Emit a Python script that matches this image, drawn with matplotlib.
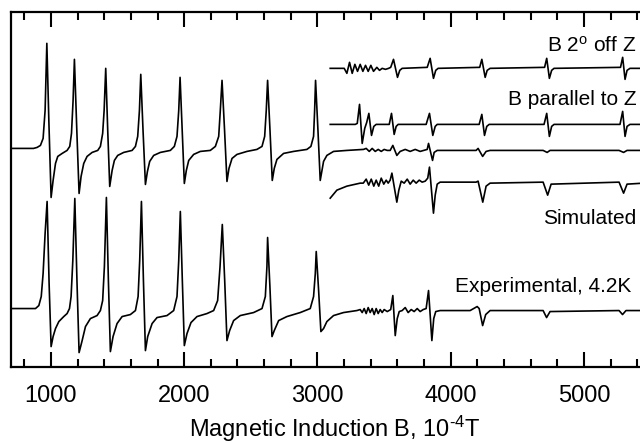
import matplotlib
matplotlib.use("Agg")
import matplotlib.pyplot as plt
from matplotlib.ticker import MultipleLocator

plt.rcParams['font.family'] = ['Liberation Sans', 'DejaVu Sans']
plt.rcParams['mathtext.fontset'] = 'custom'
plt.rcParams['mathtext.rm'] = 'Liberation Sans'
plt.rcParams['mathtext.it'] = 'Liberation Sans:italic'

# Experimental spectrum, 4.2K (field in 1e-4 T, arbitrary signal units)
b_exp = [704, 884, 909, 927, 941, 956, 971, 986, 1001, 1016, 1034, 1059, 1096, 1121, 1139,
         1151, 1164, 1179, 1195, 1211, 1234, 1259, 1296, 1346, 1371, 1388, 1401, 1416, 1431,
         1446, 1466, 1496, 1534, 1596, 1634, 1654, 1666, 1679, 1694, 1709, 1726, 1759, 1796,
         1871, 1921, 1946, 1959, 1971, 1986, 2001, 2021, 2051, 2096, 2171, 2221, 2251, 2269,
         2286, 2304, 2321, 2341, 2371, 2421, 2521, 2584, 2609, 2621, 2626, 2643, 2659, 2676,
         2709, 2771, 2871, 2946, 2971, 2984, 2991, 3009, 3026, 3046, 3071, 3121, 3196, 3296,
         3321, 3336, 3351, 3366, 3381, 3396, 3411, 3426, 3441, 3456, 3471, 3486, 3501, 3524,
         3550, 3566, 3584, 3599, 3614, 3636, 3659, 3681, 3704, 3726, 3749, 3771, 3794, 3816,
         3834, 3859, 3873, 3888, 3921, 4146, 4199, 4214, 4240, 4263, 4296, 4694, 4720, 4746,
         5264, 5290, 5316, 5571]
s_exp = [0, 0, 3, 12, 35, 75, 107, 25, -38, -28, -20, -13, -8, -5, 0,
         12, 48, 110, 28, -44, -32, -18, -10, -7, -2, 8, 42, 111, 28,
         -43, -28, -15, -8, -6, -2, 12, 48, 107, 28, -42, -28, -15, -9,
         -7, -2, 12, 48, 97, 28, -37, -25, -14, -8, -5, -2, 8, 42,
         84, 28, -32, -22, -12, -7, -4, 0, 12, 42, 71, 23, -28, -22,
         -12, -8, -4, 0, 12, 35, 57, 18, -23, -20, -13, -7, -4, -2,
         -1, -4, 0, -5, 1, -4, 0, -6, 0, -5, -1, -4, -1, -3,
         -1, 13, -27, -10, -3, -2, 1, -4, -1, -3, 0, -3, -1, 0,
         18, -32, -10, -3, -2, -2, 2, 0, -17, -6, -2, -2, -9, -3,
         -2, -6, -2, -2]

# Simulated powder spectrum
b_pow = [704, 869, 896, 921, 941, 956, 969, 984, 1001, 1016, 1034, 1051, 1084, 1121, 1141,
         1154, 1166, 1176, 1194, 1211, 1226, 1246, 1271, 1309, 1351, 1371, 1388, 1399, 1411,
         1426, 1441, 1459, 1476, 1501, 1546, 1609, 1634, 1651, 1664, 1674, 1691, 1709, 1724,
         1741, 1771, 1821, 1896, 1926, 1946, 1959, 1969, 1985, 2001, 2016, 2034, 2071, 2121,
         2196, 2234, 2259, 2271, 2284, 2303, 2321, 2336, 2359, 2396, 2471, 2546, 2584, 2604,
         2616, 2626, 2644, 2661, 2676, 2696, 2746, 2821, 2921, 2951, 2971, 2979, 2986, 3004,
         3021, 3046, 3071, 3121, 3221, 3346, 3366, 3389, 3411, 3434, 3456, 3479, 3501, 3524,
         3546, 3566, 3596, 3621, 3659, 3696, 3734, 3771, 3824, 3834, 3864, 3876, 3899, 4191,
         4206, 4240, 4266, 4296, 4694, 4724, 4746, 5264, 5298, 5324, 5571]
s_pow = [0, 0, 1, 3, 10, 38, 105, 28, -49, -32, -15, -8, -5, -2, 2,
         15, 48, 89, 18, -45, -28, -15, -8, -4, -2, 2, 15, 38, 80,
         18, -38, -22, -12, -7, -4, -2, 2, 12, 38, 74, 18, -36, -23,
         -13, -7, -4, -2, 2, 12, 38, 71, 18, -35, -22, -12, -6, -3,
         -2, 2, 12, 38, 68, 18, -33, -20, -10, -6, -3, -1, 2, 12,
         38, 68, 18, -32, -20, -11, -5, -3, -1, 2, 12, 38, 68, 18,
         -32, -13, -7, -3, -2, -1, 0, -3, 0, -3, -1, -3, -1, -2,
         -2, 3, -7, -3, -1, -3, -1, -3, -1, 5, -12, -4, -2, -2,
         0, -8, -3, -2, -2, -4, -2, -2, -4, -2, -2]

# Simulated, second curve (starts at 3100)
b_sim = [3096, 3146, 3221, 3321, 3344, 3366, 3385, 3404, 3423, 3441, 3460, 3479, 3498, 3516,
         3531, 3546, 3559, 3596, 3611, 3629, 3651, 3674, 3696, 3719, 3741, 3764, 3786, 3809,
         3828, 3841, 3871, 3884, 3899, 3921, 4191, 4206, 4241, 4266, 4296, 4694, 4728, 4754,
         5264, 5298, 5324, 5571]
s_sim = [-16, -8, -4, -1, -1, 3, -3, 3, -4, 2, -4, 4, -2, 2,
         -1, 2, 9, -20, -8, 1, -1, 3, -2, 2, -1, 2, 0, 1,
         4, 15, -31, -13, -2, 0, 0, 1, -20, -4, -1, 0, -13, -2,
         0, -11, -2, 0]

# B parallel to Z
b_par = [3096, 3284, 3299, 3316, 3336, 3355, 3370, 3386, 3406, 3423, 3441, 3539, 3556, 3576,
         3591, 3606, 3816, 3841, 3866, 3884, 3899, 4214, 4234, 4254, 4271, 4289, 4701, 4721,
         4741, 4758, 4776, 5271, 5291, 5309, 5324, 5346, 5571]
s_par = [0, 0, 1, 20, -19, -4, 2, 11, -11, -2, 0, 0, 11, -10,
         -2, 0, 0, 11, -11, -2, 0, 0, 10, -11, -2, 0, 0, 11,
         -12, -2, 0, 0, 13, -12, -2, 0, 0]

# B 2 degrees off Z
b_off = [3096, 3201, 3221, 3241, 3261, 3281, 3301, 3321, 3341, 3361, 3381, 3401, 3421, 3446,
         3466, 3486, 3511, 3534, 3550, 3571, 3601, 3618, 3636, 3824, 3846, 3871, 3888, 3906,
         4218, 4234, 4259, 4274, 4296, 4705, 4721, 4741, 4758, 4776, 5275, 5291, 5309, 5324,
         5346, 5571]
s_off = [0, 0, -5, 6, -5, 4, -3, 4, -3, 3, -3, 3, -3, 1,
         -2, 0, -1, 0, 1, 9, -9, -2, 0, 1, 10, -10, -2, 0,
         1, 9, -9, -2, 0, 1, 10, -10, -2, 0, 1, 11, -11, -2,
         0, 0]

offsets = {'exp': 58.7, 'pow': 218.7, 'sim': 185, 'par': 242.7, 'off': 298.7}

labels = ['B 2$^{\\rm o}$ off Z', 'B parallel to Z', 'Simulated', 'Experimental, 4.2K']
label_b = [5392, 5396, 5396, 5360]
label_y = [315, 262, 143, 75]

fig = plt.figure(figsize=(6.4, 4.43), dpi=100)
ax = fig.add_axes([11 / 640, 1 - 367.3 / 443, 639.5 / 640, 355.3 / 443])

lw = 1.2
ax.plot(b_exp, [v + offsets['exp'] for v in s_exp], color='black', lw=lw)
ax.plot(b_pow, [v + offsets['pow'] for v in s_pow], color='black', lw=lw)
ax.plot(b_sim, [v + offsets['sim'] for v in s_sim], color='black', lw=lw)
ax.plot(b_par, [v + offsets['par'] for v in s_par], color='black', lw=lw)
ax.plot(b_off, [v + offsets['off'] for v in s_off], color='black', lw=lw)

for txt, bx, by in zip(labels, label_b, label_y):
    ax.text(bx, by, txt, ha='right', va='baseline', fontsize=15)

ax.set_xlim(700, 5500)
ax.set_ylim(0, 355)
ax.xaxis.set_major_locator(MultipleLocator(1000))
ax.xaxis.set_minor_locator(MultipleLocator(200))
ax.tick_params(axis='x', which='both', direction='in', top=True, bottom=True,
               labelsize=17, width=1.5, pad=12.5)
ax.tick_params(axis='x', which='major', length=11)
ax.tick_params(axis='x', which='minor', length=5.5)
ax.set_yticks([])
for sp in ax.spines.values():
    sp.set_linewidth(1.6)

ax.set_xlabel('Magnetic Induction B, 10$^{\\rm \u2010 4}$T', fontsize=17)
ax.xaxis.set_label_coords(0.507, -0.13)

fig.savefig('out.png', dpi=100)
